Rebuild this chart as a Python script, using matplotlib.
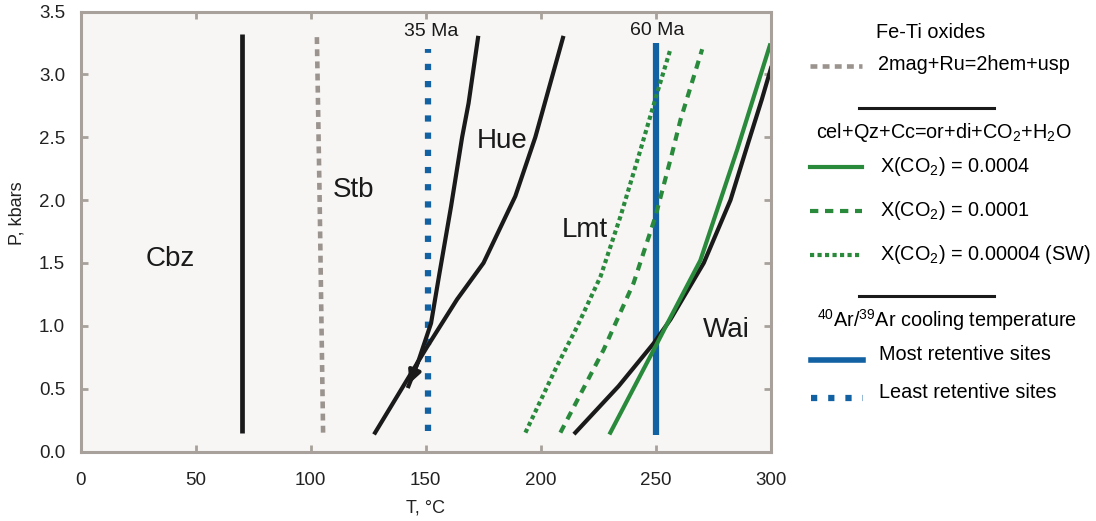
import matplotlib
matplotlib.use("Agg")
import matplotlib.pyplot as plt

plt.rcParams["font.family"] = ["Liberation Sans", "DejaVu Sans"]
plt.rcParams["mathtext.default"] = "regular"

# ---- data (T in degC, P in kbar) ----
cbz_t = [70, 70]
cbz_p = [0.15, 3.32]

stb_t = [105.4, 103.9, 102.7]
stb_p = [0.15, 2.0, 3.30]

hue_a_t = [172.7, 168.6, 165.8, 161.0, 155.8, 152.3, 147.0, 142.5]
hue_a_p = [3.29, 2.77, 2.50, 1.95, 1.40, 1.02, 0.73, 0.52]

hue_b_t = [128.0, 150.5, 163.6, 175.1, 188.9, 197.6, 209.6]
hue_b_p = [0.15, 0.83, 1.21, 1.50, 2.03, 2.50, 3.29]

wai_t = [215.0, 233.8, 249.0, 256.3, 270.8, 282.4, 290.0, 296.0, 300.0]
wai_p = [0.15, 0.52, 0.86, 1.05, 1.50, 2.00, 2.45, 2.80, 3.05]

co2_0004_t = [230.2, 250.5, 255.0, 269.3, 285.3, 299.5]
co2_0004_p = [0.15, 0.86, 1.02, 1.52, 2.40, 3.23]

co2_0001_t = [208.5, 227.3, 240.3, 249.8, 257.0, 260.7, 270.1]
co2_0001_p = [0.15, 0.81, 1.34, 1.87, 2.37, 2.64, 3.20]

co2_sw_t = [193.3, 207.0, 215.7, 225.9, 234.6, 243.3, 250.5, 256.3]
co2_sw_p = [0.15, 0.68, 0.99, 1.39, 1.87, 2.40, 2.85, 3.20]

ma35_t = [151, 151]
ma35_p = [0.16, 3.20]
ma60_t = [250, 250]
ma60_p = [0.13, 3.25]

region_names = ["Cbz", "Stb", "Hue", "Lmt", "Wai"]
region_t = [38.8, 118.7, 183.0, 218.9, 280.5]
region_p = [1.53, 2.08, 2.47, 1.765, 0.964]

x_ticks = [0, 50, 100, 150, 200, 250, 300]
y_ticks = [0.0, 0.5, 1.0, 1.5, 2.0, 2.5, 3.0, 3.5]

# ---- styles ----
BLACK = "#1a1a1a"
GREEN = "#2a8a3c"
BLUE = "#1262a3"
GRAY = "#9a938e"
FRAME = "#a8a19b"
BG = "#f7f6f5"

DOT_SQ = (0, (1.0, 1.75))
GRAY_DASH = (0, (1.5, 1.15))
GREEN_DASH = (0, (2.0, 1.6))
GREEN_DOT = (0, (1.0, 0.8))

fig = plt.figure(figsize=(10.96, 5.21), dpi=100)
ax = fig.add_axes([80.5 / 1096, 1 - 451.5 / 521, (771 - 80.5) / 1096, (451.5 - 11.5) / 521])
ax.set_facecolor(BG)

ax.plot(cbz_t, cbz_p, color=BLACK, lw=3.4, solid_capstyle="butt")
ax.plot(stb_t, stb_p, color=GRAY, lw=3.3, ls=GRAY_DASH)
ax.plot(ma35_t, ma35_p, color=BLUE, lw=4.5, ls=DOT_SQ)
ax.plot(ma60_t, ma60_p, color=BLUE, lw=4.5, solid_capstyle="butt")
ax.plot(hue_a_t, hue_a_p, color=BLACK, lw=3.0)
ax.plot(hue_b_t, hue_b_p, color=BLACK, lw=3.0)
ax.annotate("", xy=(hue_a_t[-1], hue_a_p[-1]), xytext=(hue_a_t[-2], hue_a_p[-2]),
            arrowprops=dict(arrowstyle="-|>", color=BLACK, lw=3.0, mutation_scale=18))
ax.plot(co2_sw_t, co2_sw_p, color=GREEN, lw=3.0, ls=GREEN_DOT)
ax.plot(co2_0001_t, co2_0001_p, color=GREEN, lw=3.0, ls=GREEN_DASH)
ax.plot(wai_t, wai_p, color=BLACK, lw=3.0)
ax.plot(co2_0004_t, co2_0004_p, color=GREEN, lw=3.0)

for name, t, p in zip(region_names, region_t, region_p):
    ax.text(t, p, name, fontsize=20, ha="center", va="center", color=BLACK)

ax.text(152.4, 3.34, "35 Ma", fontsize=14, ha="center", va="center", color=BLACK)
ax.text(250.5, 3.35, "60 Ma", fontsize=14, ha="center", va="center", color=BLACK)

ax.set_xlim(0, 300)
ax.set_ylim(0, 3.5)
ax.set_xticks(x_ticks)
ax.set_yticks(y_ticks)
ax.set_yticklabels([f"{v:.1f}" for v in y_ticks])
ax.tick_params(direction="in", length=5, width=2, color=FRAME, top=True, right=True,
               labelsize=13.5, labelcolor="#222222")
ax.tick_params(axis="x", pad=15)
ax.tick_params(axis="y", pad=11)
for s in ax.spines.values():
    s.set_color(FRAME)
    s.set_linewidth(2.2)

ax.set_xlabel("T, °C", fontsize=13, color="#222222")
ax.set_ylabel("P, kbars", fontsize=13, color="#222222")
ax.xaxis.set_label_coords(0.5, -0.108)
ax.yaxis.set_label_coords(-0.080, 0.542)

# ---- custom legend in pixel coordinates ----
lg = fig.add_axes([0, 0, 1, 1])
lg.set_xlim(0, 1096)
lg.set_ylim(521, 0)
lg.axis("off")
lg.patch.set_alpha(0)

LFS = 14.3
lg.text(931, 33, "Fe-Ti oxides", fontsize=LFS, ha="center", va="center")
lg.plot([810, 862], [66, 66], color=GRAY, lw=3.3, ls=GRAY_DASH)
lg.text(878, 65, "2mag+Ru=2hem+usp", fontsize=LFS, ha="left", va="center")
lg.plot([859, 994], [107.5, 107.5], color=BLACK, lw=2.2)
lg.text(944, 132, "cel+Qz+Cc=or+di+CO$_2$+H$_2$O", fontsize=LFS, ha="center", va="center")
lg.plot([810, 862], [166.5, 166.5], color=GREEN, lw=3.0)
lg.text(880, 166, "X(CO$_2$) = 0.0004", fontsize=LFS, ha="left", va="center")
lg.plot([810, 862], [211, 211], color=GREEN, lw=3.0, ls=GREEN_DASH)
lg.text(880, 211, "X(CO$_2$) = 0.0001", fontsize=LFS, ha="left", va="center")
lg.plot([810, 862], [255, 255], color=GREEN, lw=3.0, ls=GREEN_DOT)
lg.text(880, 255, "X(CO$_2$) = 0.00004 (SW)", fontsize=LFS, ha="left", va="center")
lg.plot([859, 994], [295.5, 295.5], color=BLACK, lw=2.2)
lg.text(947, 320, "$^{40}$Ar/$^{39}$Ar cooling temperature", fontsize=LFS, ha="center", va="center")
lg.plot([811, 863], [360, 360], color=BLUE, lw=4.0)
lg.text(879, 355, "Most retentive sites", fontsize=LFS, ha="left", va="center")
lg.plot([811, 863], [398, 398], color=BLUE, lw=4.5, ls=DOT_SQ)
lg.text(879, 393, "Least retentive sites", fontsize=LFS, ha="left", va="center")

fig.savefig("out.png", dpi=100)
